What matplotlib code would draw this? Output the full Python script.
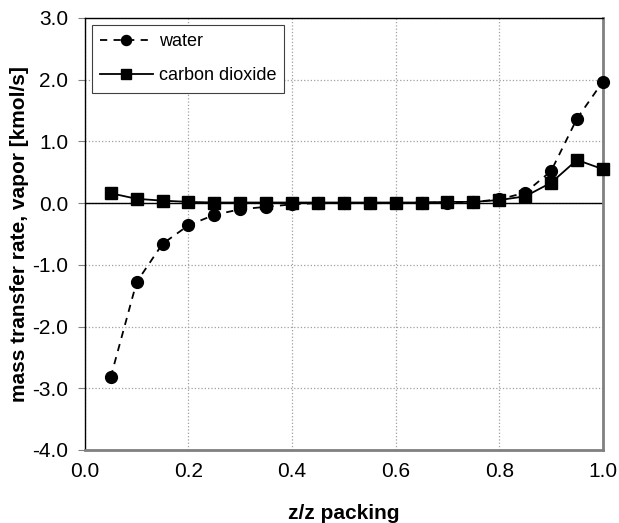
import matplotlib.pyplot as plt

plt.rcParams['font.family'] = ['Liberation Sans', 'DejaVu Sans']

z_packing = [0.05, 0.10, 0.15, 0.20, 0.25, 0.30, 0.35, 0.40, 0.45, 0.50,
             0.55, 0.60, 0.65, 0.70, 0.75, 0.80, 0.85, 0.90, 0.95, 1.00]
water = [-2.82, -1.28, -0.66, -0.36, -0.19, -0.10, -0.06, -0.02, 0.00, 0.00,
         0.00, 0.00, 0.01, 0.01, 0.02, 0.06, 0.17, 0.52, 1.37, 1.97]
carbon_dioxide = [0.16, 0.07, 0.04, 0.02, 0.01, 0.01, 0.01, 0.01, 0.01, 0.01,
                  0.01, 0.01, 0.01, 0.02, 0.02, 0.05, 0.11, 0.33, 0.70, 0.55]

x_ticks = [0.0, 0.2, 0.4, 0.6, 0.8, 1.0]
y_ticks = [-4.0, -3.0, -2.0, -1.0, 0.0, 1.0, 2.0, 3.0]


def main():
	fig = plt.figure(figsize=(6.19, 5.23), dpi=100)
	ax = fig.add_axes([0.137, 0.1396, 0.837, 0.826])

	ax.plot(z_packing, water, 'k--', marker='o', markersize=8.5,
	        dashes=(4, 3.5), linewidth=1.3, label='water', clip_on=False, zorder=4)
	ax.plot(z_packing, carbon_dioxide, 'k-', marker='s', markersize=8,
	        linewidth=1.3, label='carbon dioxide', clip_on=False, zorder=3)
	ax.axhline(0, color='black', linewidth=1.0, zorder=2)

	ax.set_xlim(0, 1.0)
	ax.set_ylim(-4.0, 3.0)
	ax.set_xticks(x_ticks)
	ax.set_yticks(y_ticks)
	ax.set_xticklabels(['%.1f' % v for v in x_ticks])
	ax.set_yticklabels(['%.1f' % v for v in y_ticks])
	ax.tick_params(axis='both', labelsize=15)
	ax.tick_params(axis='x', length=0, pad=9)
	ax.tick_params(axis='y', length=5, color='#808080', pad=7)

	ax.grid(True, color='#a0a0a0', linestyle=':', linewidth=0.9)
	ax.set_axisbelow(True)

	for side in ['left', 'top']:
		ax.spines[side].set_color('black')
		ax.spines[side].set_linewidth(1.0)
	for side in ['right', 'bottom']:
		ax.spines[side].set_color('#808080')
		ax.spines[side].set_linewidth(2.0)

	ax.set_xlabel('z/z packing', fontsize=15, fontweight='bold', labelpad=16)
	ax.set_ylabel('mass transfer rate, vapor [kmol/s]', fontsize=15,
	              fontweight='bold', labelpad=2)

	leg = ax.legend(loc='upper left', fontsize=13, fancybox=False,
	                edgecolor='#404040', framealpha=1, borderpad=0.45,
	                handlelength=2.9, handletextpad=0.35, labelspacing=0.95,
	                borderaxespad=0.4, markerscale=0.85)
	leg.get_frame().set_linewidth(0.8)

	plt.savefig('out.png', dpi=100)


if __name__ == "__main__":
	main()
